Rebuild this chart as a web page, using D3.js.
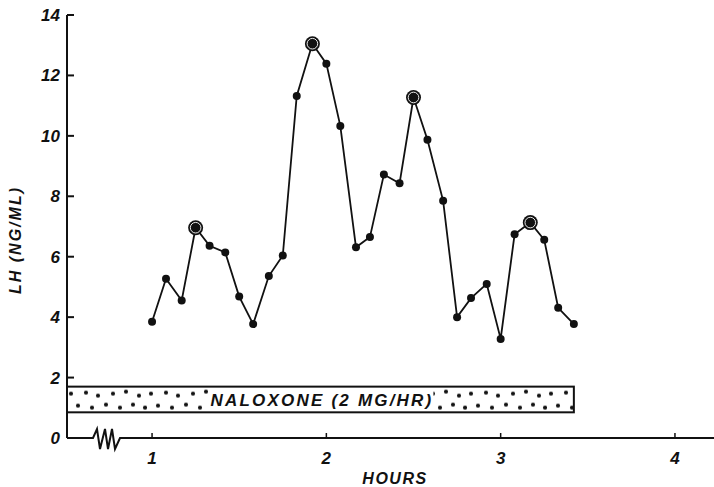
<!DOCTYPE html>
<html>
<head>
<meta charset="utf-8">
<script src="https://cdn.jsdelivr.net/npm/d3@7"></script>
<style>
  body { margin: 0; background: #fff; }
  text { font-family: "Liberation Sans", "DejaVu Sans", sans-serif; font-style: italic; fill: #111; }
</style>
</head>
<body>
<div id="chart"></div>
<script>
// sampling times (hours) and LH values
var hours = [1.00, 1.08, 1.17, 1.25, 1.33, 1.42, 1.50, 1.58, 1.67, 1.75,
             1.83, 1.92, 2.00, 2.08, 2.17, 2.25, 2.33, 2.42, 2.50, 2.58,
             2.67, 2.75, 2.83, 2.92, 3.00, 3.08, 3.17, 3.25, 3.33, 3.42];
var lh = [3.85, 5.27, 4.55, 6.96, 6.36, 6.14, 4.68, 3.77, 5.36, 6.04,
          11.32, 13.05, 12.39, 10.33, 6.31, 6.65, 8.72, 8.43, 11.27, 9.87,
          7.85, 4.0, 4.63, 5.10, 3.28, 6.74, 7.13, 6.56, 4.31, 3.77];
// pulse peaks (circled points), by index
var peaks = [3, 11, 18, 26];

var xTicks = [1, 2, 3, 4];
var yTicks = [0, 2, 4, 6, 8, 10, 12, 14];

// naloxone infusion bar
var infusionEnd = 3.42;
var infusionLevels = [0.85, 1.7];
var infusionLabel = "NALOXONE (2 MG/HR)";

var width = 714, height = 487;

var svg = d3.select("#chart")
  .append("svg")
    .attr("width", width)
    .attr("height", height);

var x = d3.scaleLinear()
  .domain([0.512, 4.224])
  .range([67, 714]);

var y = d3.scaleLinear()
  .domain([0, 14])
  .range([438, 15]);

// stipple pattern for the infusion bar
var defs = svg.append("defs");
var pat = defs.append("pattern")
  .attr("id", "stipple")
  .attr("patternUnits", "userSpaceOnUse")
  .attr("x", x.range()[0])
  .attr("y", y(infusionLevels[1]))
  .attr("width", 80)
  .attr("height", 26);
var stippleDots = [[4, 7], [19, 6], [31, 9], [46, 7], [59, 5], [72, 9],
                   [11, 19], [25, 21], [39, 18], [53, 21], [66, 18], [78, 21]];
pat.selectAll("circle")
  .data(stippleDots)
  .enter()
  .append("circle")
    .attr("cx", function(d) { return d[0]; })
    .attr("cy", function(d) { return d[1]; })
    .attr("r", 2.1)
    .attr("fill", "#111");

// infusion bar
svg.append("rect")
  .attr("x", x.range()[0])
  .attr("y", y(infusionLevels[1]))
  .attr("width", x(infusionEnd) - x.range()[0])
  .attr("height", y(infusionLevels[0]) - y(infusionLevels[1]))
  .attr("fill", "url(#stipple)")
  .attr("stroke", "#111")
  .attr("stroke-width", 2);

var label = svg.append("text")
  .attr("x", 322)
  .attr("y", (y(infusionLevels[0]) + y(infusionLevels[1])) / 2 + 6.5)
  .attr("text-anchor", "middle")
  .style("font-size", "17px")
  .style("font-weight", "bold")
  .style("letter-spacing", "2.2px")
  .text(infusionLabel);
var bb = label.node().getBBox();
svg.insert("rect", "text")
  .attr("x", bb.x - 2)
  .attr("y", y(infusionLevels[1]) + 1.5)
  .attr("width", bb.width + 2)
  .attr("height", y(infusionLevels[0]) - y(infusionLevels[1]) - 3)
  .attr("fill", "#fff");

// Y axis
svg.append("line")
  .attr("x1", x.range()[0]).attr("x2", x.range()[0])
  .attr("y1", y(0)).attr("y2", y(14))
  .attr("stroke", "#111").attr("stroke-width", 2);
svg.selectAll(".ytick")
  .data(yTicks.filter(function(d) { return d > 0; }))
  .enter()
  .append("line")
    .attr("x1", x.range()[0]).attr("x2", x.range()[0] + 7)
    .attr("y1", function(d) { return y(d); })
    .attr("y2", function(d) { return y(d); })
    .attr("stroke", "#111").attr("stroke-width", 2);
svg.selectAll(".ylab")
  .data(yTicks)
  .enter()
  .append("text")
    .attr("x", 60)
    .attr("y", function(d) { return y(d) + 6; })
    .attr("text-anchor", "end")
    .style("font-size", "17px")
    .style("font-weight", "bold")
    .text(function(d) { return d; });

// X axis with break symbol
var x0 = x.range()[0], ay = y(0);
var zig = [[x0, ay], [x0 + 26, ay], [x0 + 30, ay - 9], [x0 + 33, ay + 11], [x0 + 38, ay - 9],
           [x0 + 41, ay + 11], [x0 + 45, ay - 9], [x0 + 48, ay + 11], [x0 + 53, ay], [714, ay]];
svg.append("path")
  .attr("d", d3.line()(zig))
  .attr("fill", "none")
  .attr("stroke", "#111")
  .attr("stroke-width", 2);
svg.selectAll(".xtick")
  .data(xTicks)
  .enter()
  .append("line")
    .attr("x1", function(d) { return x(d); })
    .attr("x2", function(d) { return x(d); })
    .attr("y1", ay).attr("y2", ay - 5)
    .attr("stroke", "#111").attr("stroke-width", 1.5);
svg.selectAll(".xlab")
  .data(xTicks)
  .enter()
  .append("text")
    .attr("x", function(d) { return x(d); })
    .attr("y", 464)
    .attr("text-anchor", "middle")
    .style("font-size", "17px")
    .style("font-weight", "bold")
    .text(function(d) { return d; });

svg.append("text")
  .attr("x", 395)
  .attr("y", 484)
  .attr("text-anchor", "middle")
  .style("font-size", "16px")
  .style("font-weight", "bold")
  .style("letter-spacing", "1.5px")
  .text("HOURS");

svg.append("text")
  .attr("transform", "translate(21,240) rotate(-90)")
  .attr("text-anchor", "middle")
  .style("font-size", "16px")
  .style("font-weight", "bold")
  .style("letter-spacing", "2px")
  .text("LH (NG/ML)");

// data line
var pts = hours.map(function(h, i) { return [h, lh[i]]; });
svg.append("path")
  .datum(pts)
  .attr("fill", "none")
  .attr("stroke", "#111")
  .attr("stroke-width", 1.8)
  .attr("d", d3.line()
    .x(function(d) { return x(d[0]); })
    .y(function(d) { return y(d[1]); }));

svg.selectAll(".dot")
  .data(pts)
  .enter()
  .append("circle")
    .attr("cx", function(d) { return x(d[0]); })
    .attr("cy", function(d) { return y(d[1]); })
    .attr("r", function(d, i) { return peaks.indexOf(i) >= 0 ? 7.5 : 4; })
    .attr("fill", "#111");

// thin light ring inside the circled peaks
svg.selectAll(".peakring")
  .data(peaks)
  .enter()
  .append("circle")
    .attr("cx", function(i) { return x(hours[i]); })
    .attr("cy", function(i) { return y(lh[i]); })
    .attr("r", 5.3)
    .attr("fill", "none")
    .attr("stroke", "#fff")
    .attr("stroke-width", 0.9);
</script>
</body>
</html>
